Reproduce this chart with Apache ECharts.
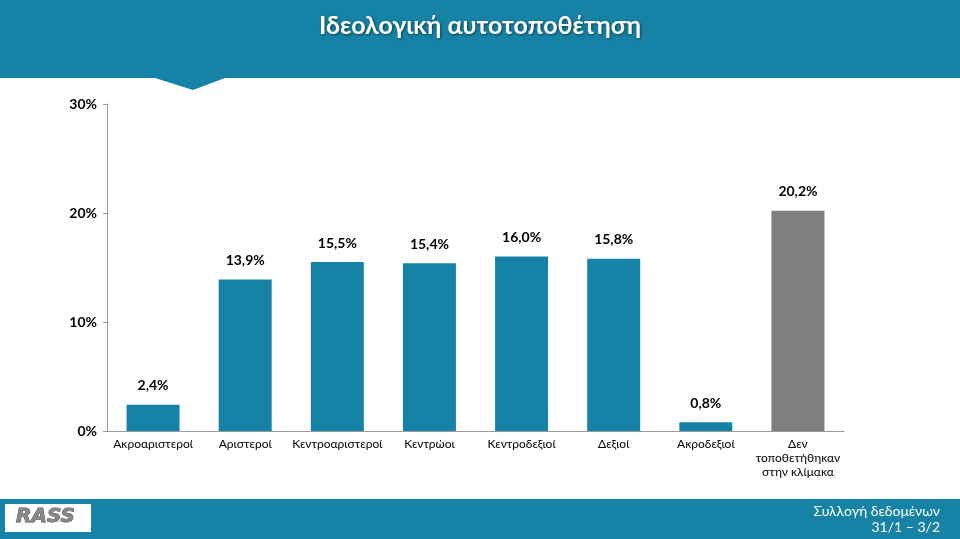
<!DOCTYPE html>
<html><head><meta charset="utf-8">
<script src="https://cdn.jsdelivr.net/npm/echarts@6/dist/echarts.min.js"></script>
<style>html,body{margin:0;padding:0;background:#fff}#chart{width:960px;height:539px}</style>
</head><body><div id="chart"></div>
<script>
// Chart Data
const categories = ["Ακροαριστεροί", "Αριστεροί", "Κεντροαριστεροί", "Κεντρώοι", "Κεντροδεξιοί", "Δεξιοί", "Ακροδεξιοί", "Δεν\nτοποθετήθηκαν\nστην κλίμακα"];
const values = [2.4, 13.9, 15.5, 15.4, 16.0, 15.8, 0.8, 20.2];
const barColors = ["#1683a6", "#1683a6", "#1683a6", "#1683a6", "#1683a6", "#1683a6", "#1683a6", "#7f7f7f"];

const teal = "#1683a6";
const chart = echarts.init(document.getElementById("chart"), null, { renderer: "canvas" });

let option = {
  animation: false,
  textStyle: { fontFamily: "Lato" },
  graphic: [
    { type: "rect", shape: { x: 0, y: 0, width: 960, height: 78 }, style: { fill: teal } },
    { type: "polygon", shape: { points: [[155, 78], [225, 78], [193, 90]] }, style: { fill: teal } },
    { type: "text", left: "center", top: 13, style: { text: "Ιδεολογική αυτοτοποθέτηση", fill: "#fff", font: "bold 25px Lato", textShadowColor: "rgba(0,0,0,0.5)", textShadowBlur: 3, textShadowOffsetX: 1, textShadowOffsetY: 1 } },
    { type: "rect", shape: { x: 0, y: 499, width: 960, height: 40 }, style: { fill: teal } },
    { type: "rect", shape: { x: 5, y: 504, width: 86, height: 28 }, style: { fill: "#fff" } },
    { type: "text", x: 16, y: 507, style: { text: "RASS", fill: "#888", font: "italic bold 20px 'DejaVu Sans'", stroke: "#444", lineWidth: 0.8 } },
    { type: "text", x: 940, y: 503, style: { text: "Συλλογή δεδομένων\n31/1 – 3/2", fill: "#fff", font: "14px Lato", align: "right", lineHeight: 16 } },
  ],
  grid: { left: 107, right: 116, top: 104, bottom: 108 },
  xAxis: {
    type: "category",
    data: categories,
    axisLine: { lineStyle: { color: "#999" } },
    axisTick: { show: false },
    axisLabel: { color: "#000", fontSize: 12, interval: 0, lineHeight: 14, margin: 6 },
  },
  yAxis: {
    type: "value",
    min: 0, max: 30, interval: 10,
    axisLine: { show: true, lineStyle: { color: "#999" } },
    axisTick: { show: true, length: 4, lineStyle: { color: "#999" } },
    splitLine: { show: false },
    axisLabel: { color: "#000", fontSize: 14, fontWeight: "bold", formatter: "{value}%", margin: 10 },
  },
  series: [{
    type: "bar",
    barWidth: 53,
    data: values.map((v, i) => ({ value: v, itemStyle: { color: barColors[i] } })),
    label: {
      show: true, position: "top", distance: 12, color: "#000", fontSize: 14, fontWeight: "bold",
      formatter: p => p.value.toFixed(1).replace(".", ",") + "%",
    },
  }],
};
chart.setOption(option);
</script></body></html>
